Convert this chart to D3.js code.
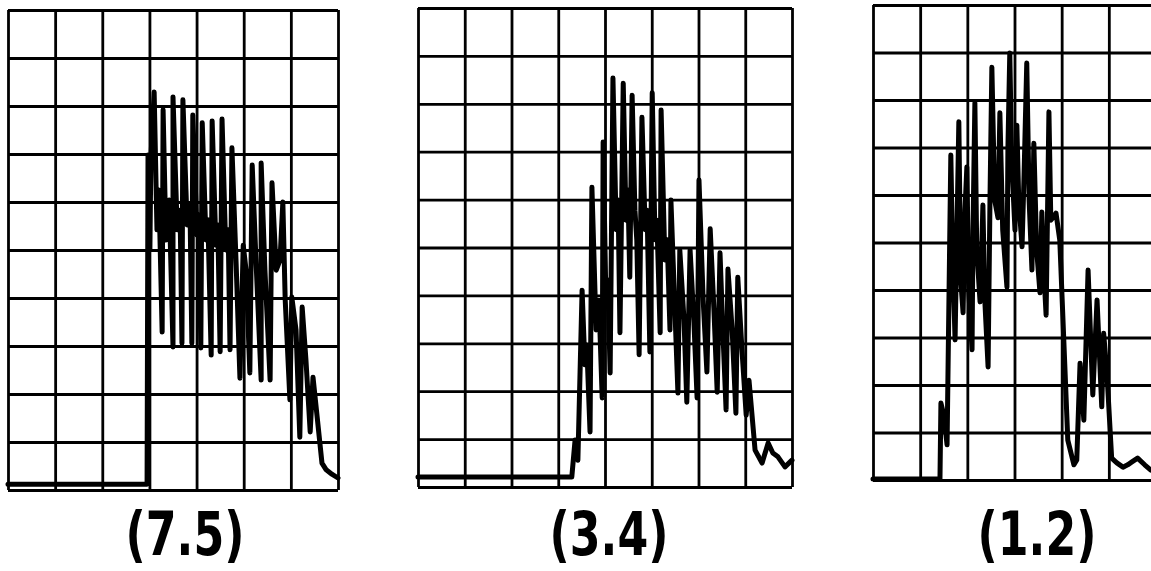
<!DOCTYPE html>
<html><head><meta charset="utf-8">
<script src="https://cdn.jsdelivr.net/npm/d3@7"></script>
<style>body{margin:0;background:#fff}svg{display:block}</style></head>
<body><svg id="c" width="1151" height="571"></svg>
<script>
// Panel labels and grid divisions
const labels = ["(7.5)", "(3.4)", "(1.2)"];
const xDivisions = [7, 8, 6];
const yDivisions = [10, 10, 10];

// Traces: [horizontal division, vertical division]
const trace75 = [[0,0.12],[2.95,0.12],[2.97,6.98],[3.01,5.0],[3.03,6.88],[3.10,8.29],[3.16,5.42],[3.20,6.25],[3.27,3.29],[3.29,7.92],[3.35,5.21],[3.42,6.04],[3.50,2.98],[3.50,8.19],[3.59,5.42],[3.65,5.83],[3.69,3.06],[3.71,8.13],[3.80,5.52],[3.86,5.94],[3.90,3.06],[3.92,7.81],[4.01,5.31],[4.05,5.73],[4.09,2.96],[4.12,7.65],[4.20,5.21],[4.24,5.63],[4.31,2.81],[4.33,7.69],[4.41,5.10],[4.45,5.52],[4.50,2.88],[4.54,7.73],[4.62,5.0],[4.67,5.42],[4.71,2.92],[4.75,7.13],[4.84,4.69],[4.92,2.33],[4.99,5.10],[5.05,4.58],[5.13,2.44],[5.18,6.77],[5.26,4.79],[5.37,2.29],[5.37,6.81],[5.45,4.58],[5.56,2.29],[5.60,6.40],[5.69,4.58],[5.77,4.79],[5.83,6.0],[5.88,3.96],[5.98,1.88],[6.02,4.02],[6.11,3.33],[6.19,1.10],[6.24,3.81],[6.32,2.71],[6.41,1.21],[6.47,2.35],[6.66,0.56],[6.75,0.42],[6.87,0.33],[7.0,0.25]];

const trace34 = [[0,0.21],[3.29,0.21],[3.36,0.98],[3.42,0.56],[3.51,4.11],[3.57,2.55],[3.61,2.96],[3.68,1.15],[3.72,6.26],[3.81,3.28],[3.87,3.90],[3.94,1.86],[3.96,7.20],[4.02,3.90],[4.06,4.32],[4.11,2.38],[4.17,8.54],[4.24,5.37],[4.28,5.99],[4.32,3.22],[4.39,8.43],[4.45,5.57],[4.49,6.20],[4.53,4.38],[4.58,8.18],[4.64,5.78],[4.68,5.16],[4.73,2.76],[4.79,7.72],[4.86,5.37],[4.90,5.78],[4.96,2.82],[5.01,8.23],[5.07,5.16],[5.11,5.57],[5.18,3.22],[5.20,7.87],[5.28,4.74],[5.33,5.16],[5.39,3.28],[5.41,5.99],[5.48,4.11],[5.56,1.96],[5.60,4.95],[5.69,3.49],[5.75,1.77],[5.82,4.95],[5.90,3.49],[5.97,1.86],[6.01,6.41],[6.10,3.90],[6.18,2.40],[6.25,5.39],[6.33,3.70],[6.40,1.98],[6.46,4.89],[6.52,3.28],[6.59,1.61],[6.63,4.55],[6.72,3.28],[6.80,1.54],[6.84,4.38],[6.93,2.86],[7.02,1.50],[7.08,2.23],[7.21,0.77],[7.36,0.50],[7.49,0.92],[7.59,0.71],[7.70,0.63],[7.85,0.42],[8.0,0.56]];

const trace12 = [[0,0.02],[1.42,0.02],[1.44,1.62],[1.50,1.37],[1.57,0.74],[1.65,6.84],[1.69,4.63],[1.74,2.95],[1.78,5.26],[1.82,7.54],[1.86,4.21],[1.91,3.52],[1.95,5.68],[1.99,6.59],[2.03,4.0],[2.10,2.74],[2.12,5.26],[2.16,7.94],[2.20,4.84],[2.27,3.75],[2.31,5.05],[2.33,5.79],[2.37,3.79],[2.44,2.38],[2.48,5.89],[2.52,8.69],[2.58,5.89],[2.65,5.52],[2.69,7.73],[2.75,5.26],[2.84,4.06],[2.86,6.95],[2.90,8.99],[2.94,6.74],[3.01,5.26],[3.05,7.47],[3.09,5.89],[3.16,4.91],[3.20,6.32],[3.26,8.78],[3.31,5.89],[3.37,4.42],[3.41,7.09],[3.47,4.84],[3.54,3.94],[3.58,5.64],[3.62,4.42],[3.67,3.47],[3.73,7.75],[3.77,5.47],[3.83,5.54],[3.88,5.62],[3.96,5.05],[4.13,0.84],[4.26,0.32],[4.32,0.42],[4.39,2.46],[4.47,1.26],[4.56,4.42],[4.66,1.79],[4.75,3.79],[4.85,1.54],[4.89,3.09],[4.96,2.25],[5.06,0.46],[5.17,0.36],[5.30,0.27],[5.40,0.32],[5.49,0.38],[5.61,0.46],[5.76,0.32],[5.89,0.21]];

const traces = [trace75, trace34, trace12];

// Layout (pixels)
const boxes = [
  {x0: 8,   x1: 338,  y0: 10, y1: 490, lx: 185},
  {x0: 418, x1: 792,  y0: 8,  y1: 487, lx: 609},
  {x0: 873, x1: 1156, y0: 5,  y1: 480, lx: 1037}
];

const svg = d3.select("#c");

boxes.forEach((b, i) => {
  const xs = d3.scaleLinear().domain([0, xDivisions[i]]).range([b.x0, b.x1]);
  const ys = d3.scaleLinear().domain([0, yDivisions[i]]).range([b.y1, b.y0]);
  const g = svg.append("g");

  // grid via axes
  const gx = g.append("g").attr("transform", `translate(0,${b.y1})`)
    .call(d3.axisBottom(xs).tickValues(d3.range(0, xDivisions[i] + 1)).tickSize(-(b.y1 - b.y0)).tickFormat(""));
  const gy = g.append("g").attr("transform", `translate(${b.x0},0)`)
    .call(d3.axisLeft(ys).tickValues(d3.range(0, yDivisions[i] + 1)).tickSize(-(b.x1 - b.x0)).tickFormat(""));
  [gx, gy].forEach(a => {
    a.select(".domain").remove();
    a.selectAll(".tick line").attr("stroke", "#000").attr("stroke-width", 2.8);
  });

  // trace
  const line = d3.line().x(d => xs(d[0])).y(d => ys(d[1]));
  g.append("path").datum(traces[i])
    .attr("d", line)
    .attr("fill", "none")
    .attr("stroke", "#000")
    .attr("stroke-width", 5)
    .attr("stroke-linejoin", "round")
    .attr("stroke-linecap", "round");

  // label
  svg.append("text")
    .attr("transform", `translate(${b.lx},555) scale(0.82,1)`)
    .attr("text-anchor", "middle")
    .attr("font-family", "'DejaVu Sans Condensed', 'DejaVu Sans', sans-serif")
    .attr("font-stretch", "condensed")
    .attr("font-weight", "bold")
    .attr("font-size", 60)
    .attr("fill", "#000")
    .text(labels[i]);
});
</script>
</body></html>
